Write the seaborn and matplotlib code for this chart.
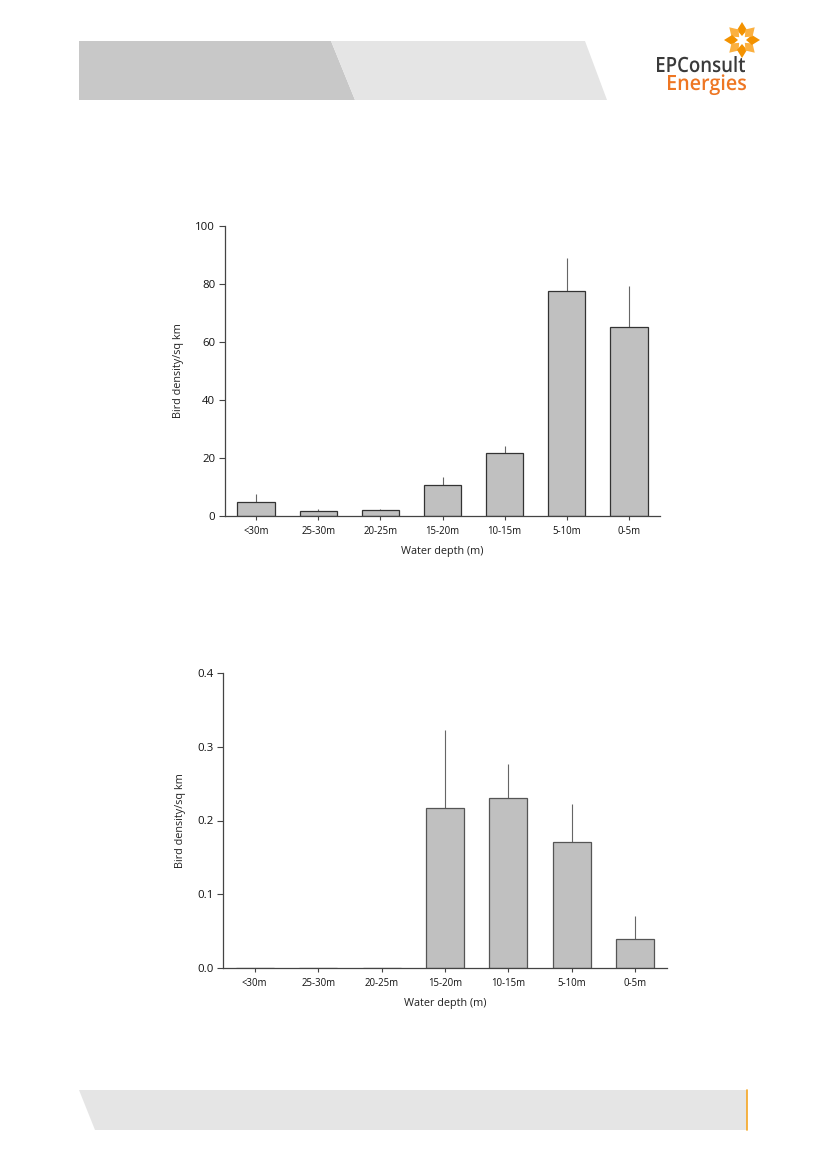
import numpy as np
import pandas as pd
import matplotlib
matplotlib.use("Agg")
import matplotlib.pyplot as plt
import seaborn as sns
from matplotlib.patches import Polygon, PathPatch
from matplotlib.textpath import TextPath
from matplotlib.font_manager import FontProperties
from matplotlib.transforms import Affine2D

categories = ["<30m", "25-30m", "20-25m", "15-20m", "10-15m", "5-10m", "0-5m"]
top_values = [4.8, 1.7, 2.0, 10.6, 21.6, 77.5, 65.1]
top_err_upper = [7.7, 2.4, 2.4, 13.6, 24.3, 89.1, 79.3]
bottom_values = [0.0, 0.0, 0.0, 0.217, 0.230, 0.171, 0.039]
bottom_err_upper = [0.0, 0.0, 0.0, 0.323, 0.277, 0.222, 0.071]
top_yticks = [0, 20, 40, 60, 80, 100]
bottom_yticks = [0.0, 0.1, 0.2, 0.3, 0.4]
bottom_yticklabels = ["0.0", "0.1", "0.2", "0.3", "0.4"]

sns.set_theme(style="white")
plt.rcParams['font.family'] = ['Open Sans', 'DejaVu Sans']

W, H = 827, 1169
fig = plt.figure(figsize=(W / 100, H / 100), dpi=100)


def px(x, y):
    return (x / W, 1 - y / H)


def poly(points, color, z=0):
    p = Polygon([px(a, b) for a, b in points], closed=True, transform=fig.transFigure,
                facecolor=color, edgecolor="none", zorder=z)
    fig.add_artist(p)


def logo_text(s, x_left, x_right, baseline, cap_h, color, weight="normal"):
    fp = FontProperties(family="Open Sans", weight=weight)
    tp = TextPath((0, 0), s, size=100, prop=fp)
    ext = tp.get_extents()
    cap = TextPath((0, 0), "E", size=100, prop=fp).get_extents()
    sx = (x_right - x_left) / ext.width
    sy = cap_h / cap.height
    tr = (Affine2D().translate(-ext.x0, 0).scale(sx, sy)
          .translate(x_left, H - baseline).scale(1 / W, 1 / H) + fig.transFigure)
    fig.add_artist(PathPatch(tp, transform=tr, facecolor=color, edgecolor="none", zorder=4))


# header
poly([(79, 41), (331, 41), (355, 100), (79, 100)], "#c8c8c8")
poly([(331, 41), (585, 41), (607, 100), (355, 100)], "#e5e5e5")
# footer
poly([(79, 1090), (747, 1090), (747, 1130), (95, 1130)], "#e5e5e5")
fig.add_artist(plt.Line2D([747 / W, 747 / W], [1 - 1090 / H, 1 - 1130 / H],
                          transform=fig.transFigure, color="#f5a623", lw=1.2))

# logo
logo_text("EPConsult", 657, 745, 72, 15, "#3a3a3a", weight="semibold")
logo_text("Energies", 668, 746, 90, 15, "#ee7623", weight="semibold")
cx, cy, R = 742, 40, 18
for k in range(8):
    ang = np.pi / 2 + k * np.pi / 4
    col = "#f39200" if k % 2 == 0 else "#fbb040"
    r0, r1, wdt = 4, R, 5.0
    dx, dy = np.cos(ang), -np.sin(ang)
    nx, ny = -dy, dx
    mid = (r0 + r1) * 0.45
    pts = [(cx + dx * r0, cy + dy * r0),
           (cx + dx * mid + nx * wdt, cy + dy * mid + ny * wdt),
           (cx + dx * r1, cy + dy * r1),
           (cx + dx * mid - nx * wdt, cy + dy * mid - ny * wdt)]
    poly(pts, col, 3)


def draw(ax, vals, errs, yticks, ylabels, ylim, edge):
    df = pd.DataFrame({"depth": categories, "density": vals})
    sns.barplot(data=df, x="depth", y="density", order=categories, ax=ax,
                color="#c0c0c0", edgecolor=edge, linewidth=0.9,
                width=0.6, errorbar=None, saturation=1)
    for i, (v, e) in enumerate(zip(vals, errs)):
        if e > v:
            ax.vlines(i, v, e, color="#666666", lw=0.8, zorder=0.5)
    ax.set_xlim(-0.5, 6.5)
    ax.set_ylim(*ylim)
    ax.set_yticks(yticks)
    ax.set_yticklabels(ylabels)
    ax.tick_params(axis="y", direction="out", length=4, width=0.8, color="#444444",
                   labelsize=8.2, pad=3, left=True, labelcolor="#111111")
    ax.tick_params(axis="x", direction="out", length=3, width=0.8, color="#444444",
                   labelsize=6.9, pad=4, bottom=True, labelcolor="#111111")
    for s in ["top", "right"]:
        ax.spines[s].set_visible(False)
    for s in ["left", "bottom"]:
        ax.spines[s].set_color("#444444")
        ax.spines[s].set_linewidth(0.9)
    ax.set_xlabel("Water depth (m)", fontsize=7.8, labelpad=7, color="#222222")
    ax.set_ylabel("Bird density/sq km", fontsize=7.8, labelpad=8, color="#222222")
    ax.set_facecolor("none")


ax1 = fig.add_axes([225 / W, 1 - 516 / H, (660 - 225) / W, (516 - 226) / H])
draw(ax1, top_values, top_err_upper, top_yticks, [str(t) for t in top_yticks], (0, 100), "#333333")

ax2 = fig.add_axes([223 / W, 1 - 968 / H, (667 - 223) / W, (968 - 673) / H])
draw(ax2, bottom_values, bottom_err_upper, bottom_yticks, bottom_yticklabels, (0, 0.4), "#555555")

fig.savefig("out.png", dpi=100)
